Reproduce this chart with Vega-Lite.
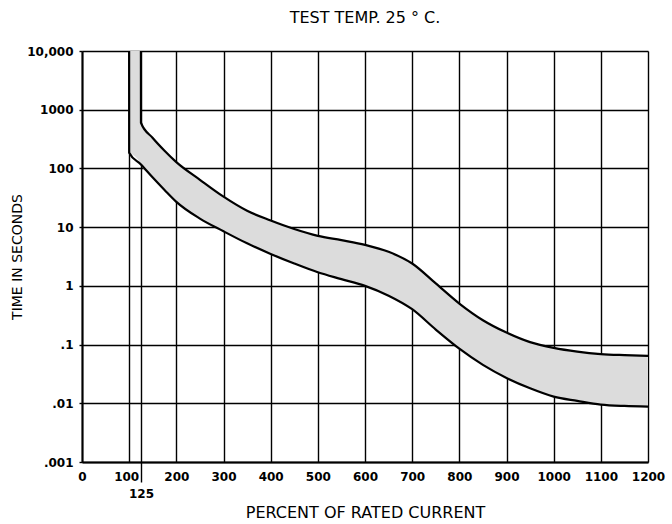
{
  "$schema": "https://vega.github.io/schema/vega-lite/v6.json",
  "width": 566,
  "height": 411,
  "padding": {"left": 10, "top": 10, "right": 8, "bottom": 4},
  "background": "white",
  "title": {"text": "TEST TEMP. 25 ° C.", "font": "DejaVu Sans", "fontSize": 16, "fontWeight": "normal", "color": "black", "offset": 19},
  "datasets": {
    "band": [
      {"x": 100, "lo": 185, "hi": 10000},
      {"x": 124.9, "lo": 118, "hi": 10000},
      {"x": 125, "lo": 117, "hi": 600},
      {"x": 150, "lo": 70, "hi": 330},
      {"x": 175, "lo": 43, "hi": 200},
      {"x": 200, "lo": 27, "hi": 128},
      {"x": 250, "lo": 14, "hi": 64},
      {"x": 300, "lo": 8.5, "hi": 33},
      {"x": 350, "lo": 5.3, "hi": 19},
      {"x": 400, "lo": 3.5, "hi": 13},
      {"x": 450, "lo": 2.4, "hi": 9.3},
      {"x": 500, "lo": 1.7, "hi": 7.1},
      {"x": 550, "lo": 1.3, "hi": 6.0},
      {"x": 600, "lo": 1.0, "hi": 5.0},
      {"x": 650, "lo": 0.68, "hi": 3.8},
      {"x": 700, "lo": 0.4, "hi": 2.4},
      {"x": 750, "lo": 0.18, "hi": 1.1},
      {"x": 800, "lo": 0.085, "hi": 0.5},
      {"x": 850, "lo": 0.045, "hi": 0.26},
      {"x": 900, "lo": 0.027, "hi": 0.16},
      {"x": 950, "lo": 0.018, "hi": 0.11},
      {"x": 1000, "lo": 0.013, "hi": 0.088},
      {"x": 1050, "lo": 0.011, "hi": 0.076},
      {"x": 1100, "lo": 0.0095, "hi": 0.069},
      {"x": 1150, "lo": 0.009, "hi": 0.066},
      {"x": 1200, "lo": 0.0088, "hi": 0.064}
    ],
    "curves": [
      {"curve": "upper", "x": 124.9, "t": 10000},
      {"curve": "upper", "x": 125, "t": 600},
      {"curve": "upper", "x": 150, "t": 330},
      {"curve": "upper", "x": 175, "t": 200},
      {"curve": "upper", "x": 200, "t": 128},
      {"curve": "upper", "x": 250, "t": 64},
      {"curve": "upper", "x": 300, "t": 33},
      {"curve": "upper", "x": 350, "t": 19},
      {"curve": "upper", "x": 400, "t": 13},
      {"curve": "upper", "x": 450, "t": 9.3},
      {"curve": "upper", "x": 500, "t": 7.1},
      {"curve": "upper", "x": 550, "t": 6.0},
      {"curve": "upper", "x": 600, "t": 5.0},
      {"curve": "upper", "x": 650, "t": 3.8},
      {"curve": "upper", "x": 700, "t": 2.4},
      {"curve": "upper", "x": 750, "t": 1.1},
      {"curve": "upper", "x": 800, "t": 0.5},
      {"curve": "upper", "x": 850, "t": 0.26},
      {"curve": "upper", "x": 900, "t": 0.16},
      {"curve": "upper", "x": 950, "t": 0.11},
      {"curve": "upper", "x": 1000, "t": 0.088},
      {"curve": "upper", "x": 1050, "t": 0.076},
      {"curve": "upper", "x": 1100, "t": 0.069},
      {"curve": "upper", "x": 1150, "t": 0.066},
      {"curve": "upper", "x": 1200, "t": 0.064},
      {"curve": "lower", "x": 99.9, "t": 10000},
      {"curve": "lower", "x": 100, "t": 185},
      {"curve": "lower", "x": 125, "t": 117},
      {"curve": "lower", "x": 150, "t": 70},
      {"curve": "lower", "x": 175, "t": 43},
      {"curve": "lower", "x": 200, "t": 27},
      {"curve": "lower", "x": 250, "t": 14},
      {"curve": "lower", "x": 300, "t": 8.5},
      {"curve": "lower", "x": 350, "t": 5.3},
      {"curve": "lower", "x": 400, "t": 3.5},
      {"curve": "lower", "x": 450, "t": 2.4},
      {"curve": "lower", "x": 500, "t": 1.7},
      {"curve": "lower", "x": 550, "t": 1.3},
      {"curve": "lower", "x": 600, "t": 1.0},
      {"curve": "lower", "x": 650, "t": 0.68},
      {"curve": "lower", "x": 700, "t": 0.4},
      {"curve": "lower", "x": 750, "t": 0.18},
      {"curve": "lower", "x": 800, "t": 0.085},
      {"curve": "lower", "x": 850, "t": 0.045},
      {"curve": "lower", "x": 900, "t": 0.027},
      {"curve": "lower", "x": 950, "t": 0.018},
      {"curve": "lower", "x": 1000, "t": 0.013},
      {"curve": "lower", "x": 1050, "t": 0.011},
      {"curve": "lower", "x": 1100, "t": 0.0095},
      {"curve": "lower", "x": 1150, "t": 0.009},
      {"curve": "lower", "x": 1200, "t": 0.0088}
    ]
  },
  "layer": [
    {
      "data": {"name": "band"},
      "mark": {"type": "area", "color": "#dcdcdc", "interpolate": "monotone"},
      "encoding": {
        "x": {
          "field": "x", "type": "quantitative",
          "scale": {"domain": [0, 1200], "nice": false, "zero": false},
          "axis": {
            "values": [0, 100, 125, 200, 300, 400, 500, 600, 700, 800, 900, 1000, 1100, 1200],
            "title": "PERCENT OF RATED CURRENT",
            "titleFontSize": 16,
            "titlePadding": 5,
            "labelOverlap": false,
            "labelFlush": false,
            "labelExpr": "toString(datum.value)",
            "tickSize": {"condition": {"test": "datum.value == 125", "value": 20}, "value": 0},
            "labelPadding": {"condition": {"test": "datum.value == 125", "value": 6}, "value": 9},
            "labelOffset": {"condition": {"test": "datum.value == 100", "value": -3}, "value": 0},
            "labelBaseline": "top"
          }
        },
        "y": {
          "field": "lo", "type": "quantitative",
          "scale": {"type": "log", "domain": [0.001, 10000], "nice": false},
          "axis": {
            "values": [0.001, 0.01, 0.1, 1, 10, 100, 1000, 10000],
            "title": "TIME IN SECONDS",
            "titleFontSize": 14,
            "titlePadding": 2,
            "tickSize": 3,
            "labelPadding": 6,
            "labelExpr": "datum.value < 1 ? replace(toString(datum.value), '0.', '.') : (datum.value == 10000 ? '10,000' : toString(datum.value))"
          }
        },
        "y2": {"field": "hi"}
      }
    },
    {
      "data": {"name": "curves"},
      "mark": {"type": "line", "color": "black", "strokeWidth": 2.2, "interpolate": "monotone"},
      "encoding": {
        "x": {"field": "x", "type": "quantitative"},
        "y": {"field": "t", "type": "quantitative"},
        "detail": {"field": "curve"}
      }
    }
  ],
  "config": {
    "view": {"stroke": null},
    "axis": {
      "grid": true,
      "gridColor": "black",
      "gridOpacity": 1,
      "gridWidth": 1.4,
      "domainColor": "black",
      "domainWidth": 2,
      "tickColor": "black",
      "tickWidth": 1.4,
      "labelFont": "DejaVu Sans",
      "labelFontSize": 12,
      "labelFontWeight": "bold",
      "labelColor": "black",
      "titleFont": "DejaVu Sans",
      "titleFontWeight": "normal",
      "titleColor": "black"
    }
  }
}
